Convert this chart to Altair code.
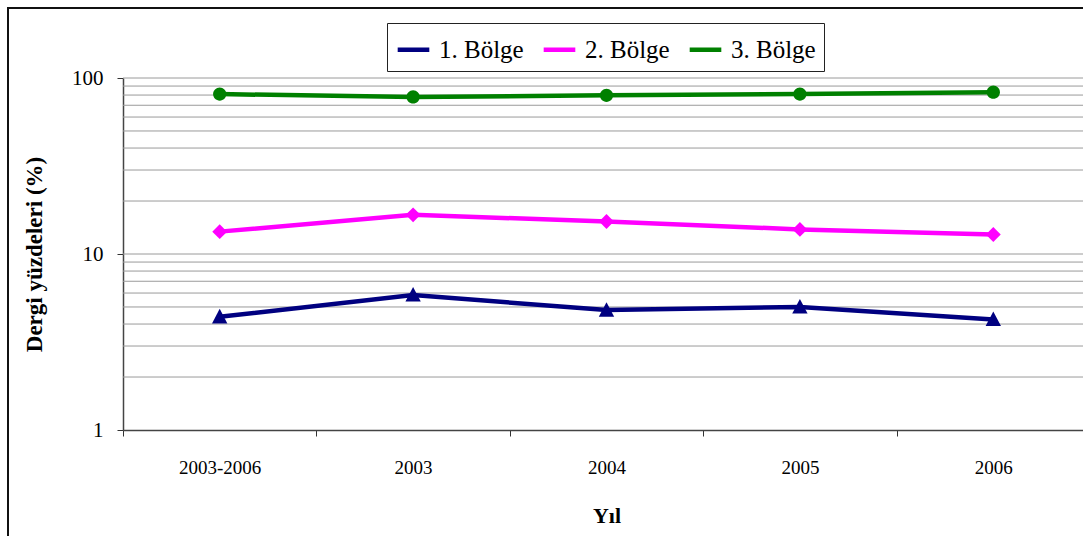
import altair as alt
import pandas as pd

categories = ["2003-2006", "2003", "2004", "2005", "2006"]
series_names = ["1. Bölge", "2. Bölge", "3. Bölge"]
bolge1 = [4.4, 5.85, 4.8, 5.0, 4.25]
bolge2 = [13.4, 16.7, 15.3, 13.8, 12.9]
bolge3 = [81.0, 78.0, 79.7, 81.0, 83.0]
colors = ["#000080", "#FF00FF", "#008000"]
grid_values = [2, 3, 4, 5, 6, 7, 8, 9, 10, 20, 30, 40, 50, 60, 70, 80, 90, 100]
y_label_values = [1, 10, 100]

rows = []
for name, vals in zip(series_names, [bolge1, bolge2, bolge3]):
    for c, v in zip(categories, vals):
        rows.append({"Yıl": c, "Bölge": name, "Değer": v})
df = pd.DataFrame(rows)

W, H = 960, 352
FONT = "Liberation Serif"
SYM = 2809  # marker path scale: unit coords * sqrt(SYM)/2 px

x_enc = alt.X(
    "Yıl:N",
    sort=categories,
    scale=alt.Scale(type="band", paddingInner=0, paddingOuter=0, range=[0, 967]),
    axis=alt.Axis(
        title="Yıl", labelAngle=0, tickBand="extent", labelFontSize=19,
        labelFont=FONT, labelColor="black", labelPadding=22, tickSize=6,
        tickColor="#333", domainColor="#444", domainWidth=1.5,
        titleFont=FONT, titleFontSize=22, titleFontWeight="bold",
        titlePadding=28, titleColor="black", grid=False,
    ),
)
y_scale = alt.Scale(type="log", domain=[1, 100])
y_enc = alt.Y(
    "Değer:Q",
    scale=y_scale,
    axis=alt.Axis(
        title="Dergi yüzdeleri (%)", values=y_label_values, format="d",
        labelFontSize=21, labelFont=FONT, labelColor="black", labelPadding=14,
        tickSize=6, tickColor="#333", domainColor="#444", domainWidth=1.5,
        titleFont=FONT, titleFontSize=23, titleFontWeight="bold",
        titlePadding=25, titleColor="black", grid=False,
    ),
)

base = alt.Chart(df)

frame = alt.Chart(pd.DataFrame({"f": [0]})).mark_rect(
    fillOpacity=0, stroke="#111", strokeWidth=2
).encode(
    x=alt.value(-115), x2=alt.value(W + 40), y=alt.value(-70), y2=alt.value(H + 140)
)

grid = alt.Chart(pd.DataFrame({"g": grid_values})).mark_rule(
    color="#9a9a9a", strokeWidth=1
).encode(y=alt.Y("g:Q", scale=y_scale))

color_scale = alt.Scale(domain=series_names, range=colors)

legend_spec = alt.Legend(
    title=None, orient="none", legendX=264, legendY=-55, direction="horizontal",
    labelFont=FONT, labelFontSize=25, labelColor="black",
    strokeColor="#222", fillColor="white", symbolType="stroke",
    symbolStrokeWidth=4.5, symbolSize=1000, labelOffset=7, columnPadding=10,
    padding=8, labelLimit=300,
)

lines = base.mark_line(strokeWidth=4.5).encode(
    x=x_enc, y=y_enc,
    color=alt.Color("Bölge:N", scale=color_scale, legend=legend_spec),
)

marker_paths = [
    "M-0.29,0.25L0,-0.3L0.29,0.25Z",
    "M-0.28,0L0,-0.28L0.28,0L0,0.28Z",
    "M-0.25,0A0.25,0.25,0,1,1,0.25,0A0.25,0.25,0,1,1,-0.25,0Z",
]

point_layers = []
for name, shp in zip(series_names, marker_paths):
    point_layers.append(
        base.transform_filter(alt.datum["Bölge"] == name)
        .mark_point(filled=True, shape=shp, size=SYM, opacity=1)
        .encode(
            x=x_enc, y=y_enc,
            color=alt.Color("Bölge:N", scale=color_scale),
        )
    )

chart = alt.layer(frame, grid, lines, *point_layers).properties(
    width=W, height=H,
    autosize=alt.AutoSizeParams(type="none"),
    padding={"left": 123, "top": 78, "right": 0, "bottom": 106},
    background="white",
).configure_view(stroke=None)

chart.save("out.html", embed_options={"renderer": "svg", "actions": False})
